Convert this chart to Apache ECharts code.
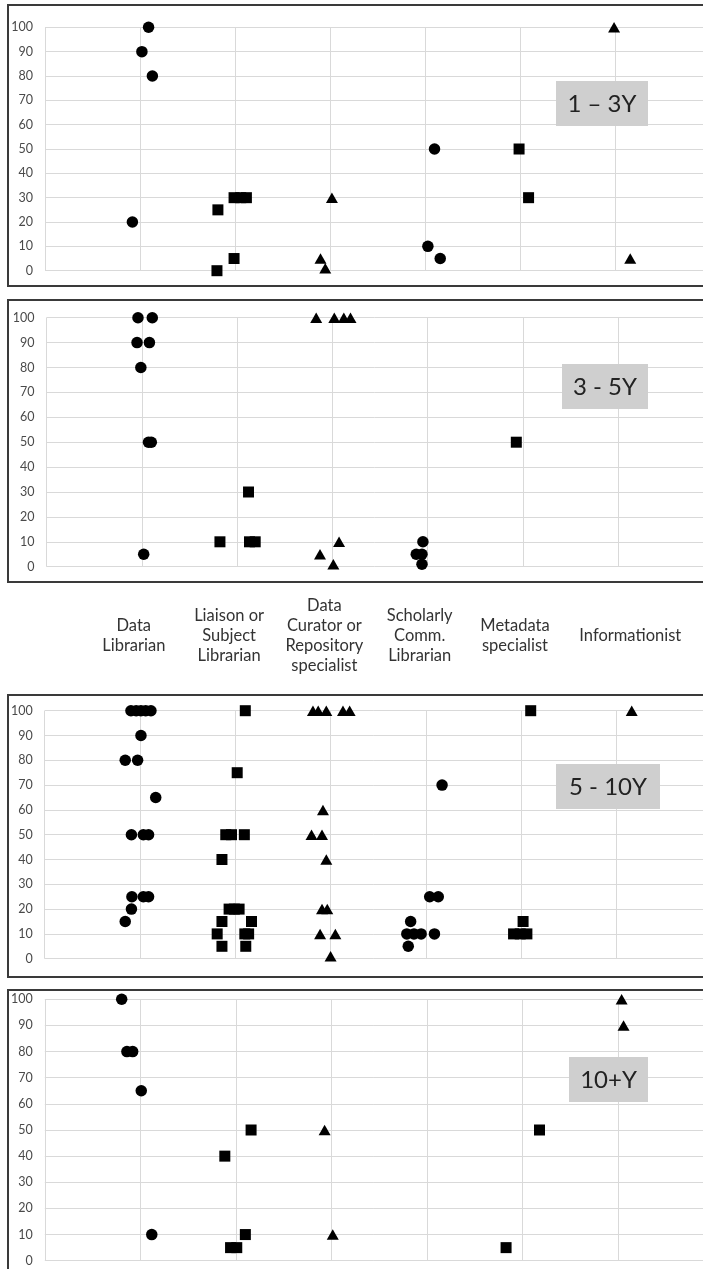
<!DOCTYPE html>
<html>
<head>
<meta charset="utf-8">
<script src="https://cdn.jsdelivr.net/npm/echarts@6/dist/echarts.min.js"></script>
<style>
html,body{margin:0;padding:0;background:#fff;}
#chart{width:703px;height:1269px;}
</style>
</head>
<body>
<div id="chart"></div>
<script>
// ---------- DATA ----------
const categories = ['Data\nLibrarian', 'Liaison or\nSubject\nLibrarian', 'Data\nCurator or\nRepository\nspecialist', 'Scholarly\nComm.\nLibrarian', 'Metadata\nspecialist', 'Informationist'];
const panelLabels = ['1 \u2013 3Y', '3 - 5Y', '5 - 10Y', '10+Y'];
const yTicks = [0, 10, 20, 30, 40, 50, 60, 70, 80, 90, 100];

// points as [x position on category axis (with jitter), percent]
// 1 - 3 years
const y13_data = [[1.09, 100], [1.02, 90], [1.13, 80], [0.92, 20]];
const y13_liaison = [[1.82, 25], [1.99, 30], [2.06, 30], [2.12, 30], [1.99, 5], [1.81, 0]];
const y13_curator = [[3.02, 30], [2.90, 5], [2.95, 1]];
const y13_scholarly = [[4.10, 50], [4.03, 10], [4.16, 5]];
const y13_metadata = [[4.99, 50], [5.09, 30]];
const y13_informationist = [[5.99, 100], [6.16, 5]];

// 3 - 5 years
const y35_data = [[0.96, 100], [1.11, 100], [0.95, 90], [1.08, 90], [0.99, 80], [1.07, 50], [1.10, 50], [1.02, 5]];
const y35_liaison = [[2.12, 30], [1.82, 10], [2.13, 10], [2.19, 10]];
const y35_curator = [[2.83, 100], [3.02, 100], [3.12, 100], [3.19, 100], [3.07, 10], [2.87, 5], [3.01, 1]];
const y35_scholarly = [[3.95, 10], [3.88, 5], [3.94, 5], [3.94, 1]];
const y35_metadata = [[4.93, 50]];
const y35_informationist = [];

// 5 - 10 years
const y510_data = [[0.905, 100], [0.96, 100], [1.01, 100], [1.06, 100], [1.115, 100], [1.01, 90], [0.845, 80], [0.975, 80], [1.165, 65], [0.91, 50], [1.035, 50], [1.09, 50], [0.915, 25], [1.035, 25], [1.09, 25], [0.91, 20], [0.845, 15]];
const y510_liaison = [[2.105, 100], [2.02, 75], [1.90, 50], [1.96, 50], [2.095, 50], [1.86, 40], [1.935, 20], [1.99, 20], [2.04, 20], [1.86, 15], [2.17, 15], [1.81, 10], [2.10, 10], [2.14, 10], [1.86, 5], [2.11, 5]];
const y510_curator = [[2.815, 100], [2.87, 100], [2.955, 100], [3.13, 100], [3.20, 100], [2.92, 60], [2.80, 50], [2.91, 50], [2.955, 40], [2.91, 20], [2.965, 20], [2.89, 10], [3.05, 10], [3.00, 1]];
const y510_scholarly = [[4.17, 70], [4.04, 25], [4.13, 25], [3.84, 15], [3.80, 10], [3.875, 10], [3.95, 10], [4.09, 10], [3.815, 5]];
const y510_metadata = [[5.10, 100], [5.02, 15], [4.92, 10], [4.99, 10], [5.06, 10]];
const y510_informationist = [[6.16, 100]];

// 10+ years
const y10p_data = [[0.805, 100], [0.86, 80], [0.92, 80], [1.01, 65], [1.12, 10]];
const y10p_liaison = [[2.16, 50], [1.885, 40], [2.10, 10], [1.945, 5], [2.01, 5]];
const y10p_curator = [[2.93, 50], [3.015, 10]];
const y10p_scholarly = [];
const y10p_metadata = [[5.18, 50], [4.83, 5]];
const y10p_informationist = [[6.04, 100], [6.06, 90]];

const panels = [
  [y13_data, y13_liaison, y13_curator, y13_scholarly, y13_metadata, y13_informationist],
  [y35_data, y35_liaison, y35_curator, y35_scholarly, y35_metadata, y35_informationist],
  [y510_data, y510_liaison, y510_curator, y510_scholarly, y510_metadata, y510_informationist],
  [y10p_data, y10p_liaison, y10p_curator, y10p_scholarly, y10p_metadata, y10p_informationist]
];

// ---------- LAYOUT / STYLE ----------
const gridLefts = [45, 46.5, 44.7, 44.8];
const xMaxes = [6.926, 6.889, 6.908, 6.892]; // axis extends past the cropped right edge
const gridTops = [27.3, 317.7, 710.7, 999.3];
const gridHeights = [243.4, 249, 248, 261.4];
const frames = [[5, 281], [300, 282], [695, 282], [990, 300]];
const labelBoxes = [[556, 81, 92, 45], [562, 364, 86, 45], [556, 764, 104, 45], [569, 1057, 79, 45]];
const shapes = ['circle', 'rect', 'triangle', 'circle', 'rect', 'triangle'];
const sizes = [11.5, 11, [12, 10.5], 11.5, 11, [12, 10.5]];
const FONT = 'Lato, "Open Sans", sans-serif';

const grids = [], xAxes = [], yAxes = [], series = [], graphics = [];
panels.forEach((groups, i) => {
  grids.push({left: gridLefts[i], right: 0, top: gridTops[i], height: gridHeights[i]});
  xAxes.push({
    type: 'value', gridIndex: i, min: 0, max: xMaxes[i], interval: 1,
    axisLine: {show: false}, axisTick: {show: false},
    splitLine: {show: true, showMinLine: true, showMaxLine: false, lineStyle: {color: '#d9d9d9', width: 1}},
    axisLabel: i === 1 ? {
      show: true, margin: 69, verticalAlign: 'middle', align: 'center',
      showMaxLabel: false,
      formatter: v => {
        const c = categories[v - 1];
        if (!c || v !== Math.round(v)) return '';
        return (v === 6 ? '{r|' : '{l|') + c + '}';
      },
      rich: {
        l: {fontFamily: FONT, fontSize: 16.5, color: '#333', lineHeight: 20, padding: [0, 16, 0, 0]},
        r: {fontFamily: FONT, fontSize: 16.5, color: '#333', lineHeight: 20, padding: [0, 0, 0, 24]}
      }
    } : {show: false}
  });
  yAxes.push({
    type: 'value', gridIndex: i, min: 0, max: 100, interval: 10,
    axisLine: {show: false}, axisTick: {show: false},
    splitLine: {show: true, lineStyle: {color: '#d9d9d9', width: 1}},
    axisLabel: {margin: 12, fontFamily: FONT, fontSize: 12.5, color: '#4a4a4a',
      formatter: v => yTicks.indexOf(v) >= 0 ? String(v) : ''}
  });
  groups.forEach((arr, j) => {
    series.push({
      type: 'scatter', xAxisIndex: i, yAxisIndex: i, data: arr,
      symbol: shapes[j], symbolSize: sizes[j],
      itemStyle: {color: '#000', opacity: 1}, silent: true, z: 5
    });
  });
  const f = frames[i];
  graphics.push({type: 'rect', shape: {x: 8, y: f[0], width: 720, height: f[1]},
    style: {fill: 'none', stroke: '#3a3a3a', lineWidth: 2}, z: 10, silent: true});
  const b = labelBoxes[i];
  graphics.push({type: 'rect', shape: {x: b[0], y: b[1], width: b[2], height: b[3]},
    style: {fill: '#cfcfcf'}, z: 11, silent: true});
  graphics.push({type: 'text', x: b[0] + b[2] / 2, y: b[1] + b[3] / 2 + 1,
    style: {text: panelLabels[i], font: '24px ' + FONT, fill: '#222', textAlign: 'center', textVerticalAlign: 'middle'},
    z: 12, silent: true});
});

const chart = echarts.init(document.getElementById('chart'), null, {renderer: 'canvas'});
chart.setOption({
  animation: false,
  backgroundColor: '#fff',
  grid: grids, xAxis: xAxes, yAxis: yAxes, series: series,
  graphic: graphics
});
</script>
</body>
</html>
